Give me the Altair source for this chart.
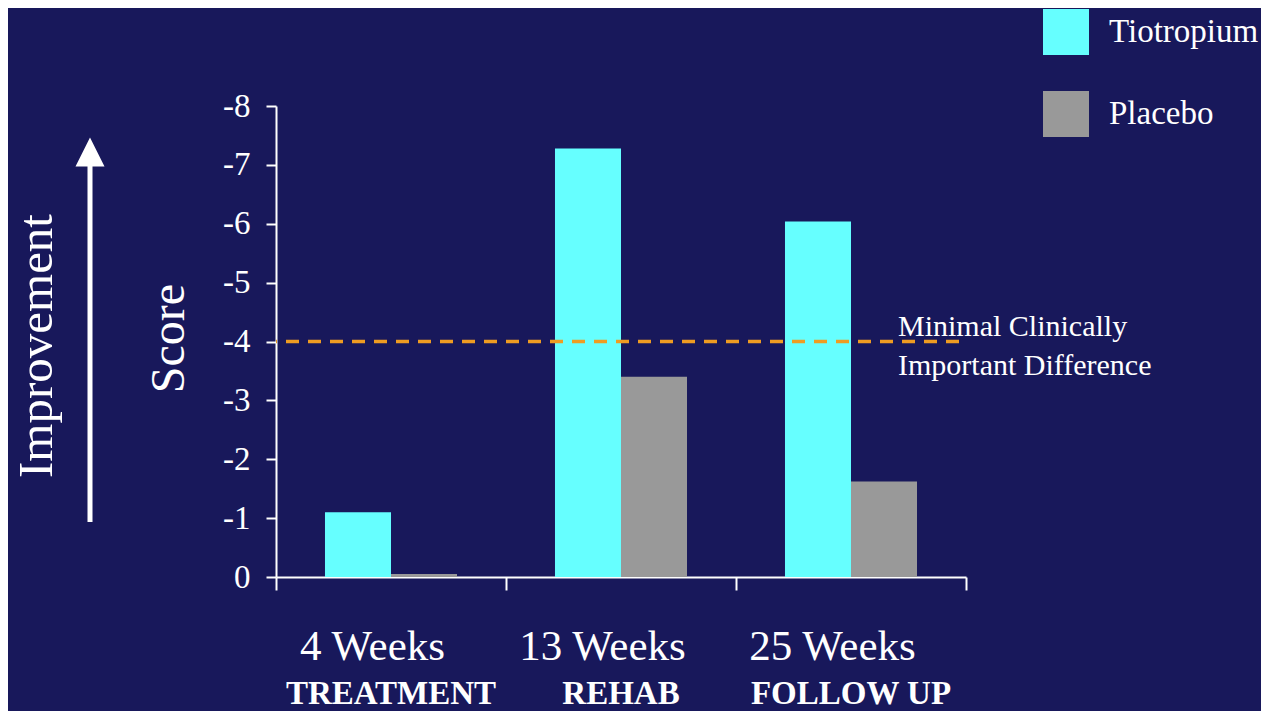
import altair as alt
import pandas as pd

weeks = ["4 Weeks", "13 Weeks", "25 Weeks"]
phases = ["TREATMENT", "REHAB", "FOLLOW UP"]
groups = ["Tiotropium", "Placebo"]
tiotropium = [-1.1, -7.28, -6.04]
placebo = [-0.05, -3.4, -1.62]
mcid = -4.0
y_ticks = [-8, -7, -6, -5, -4, -3, -2, -1, 0]

rows = []
for w, t, p in zip(weeks, tiotropium, placebo):
    rows.append({"Week": w, "Group": "Tiotropium", "Score": t})
    rows.append({"Week": w, "Group": "Placebo", "Score": p})
df = pd.DataFrame(rows)
phase_df = pd.DataFrame({"Week": weeks, "Phase": phases})

BG = "#18185B"
FONT = "Liberation Serif"
W, H = 690, 471

x_main = alt.X(
    "Week:N",
    sort=weeks,
    scale=alt.Scale(paddingInner=0, paddingOuter=0),
    axis=alt.Axis(
        orient="bottom", title=None, labelAngle=0, tickBand="extent",
        tickSize=13, tickWidth=2, tickColor="white", domainColor="white",
        domainWidth=2, labelColor="white", labelFont=FONT, labelFontSize=43,
        labelPadding=35, labelBaseline="top", labelLimit=0, labelOffset=-19,
    ),
)

y_main = alt.Y(
    "Score:Q",
    scale=alt.Scale(domain=[0, -8], nice=False),
    axis=alt.Axis(
        values=y_ticks, title="Score", grid=False,
        labelExpr="datum.value == 0 ? '0' : '-' + abs(datum.value)",
        tickSize=10, tickWidth=2, tickColor="white", domainColor="white",
        domainWidth=2, labelColor="white", labelFont=FONT, labelFontSize=33,
        labelPadding=16, titleColor="white", titleFont=FONT, titleFontSize=48,
        titleFontWeight="normal", titleAngle=270, titleBaseline="alphabetic",
        titleAlign="center", titleX=-93, titleY=232,
    ),
)

bars = alt.Chart(df).mark_bar().encode(
    x=x_main,
    xOffset=alt.XOffset("Group:N", sort=groups,
                        scale=alt.Scale(paddingInner=0, paddingOuter=0.742)),
    y=y_main,
    color=alt.Color(
        "Group:N", sort=groups,
        scale=alt.Scale(domain=groups, range=["#66FFFF", "#999999"]),
        legend=alt.Legend(
            title=None, orient="none", legendX=767, legendY=-97,
            symbolType="square", symbolSize=2116, symbolStrokeWidth=0,
            symbolOpacity=1, labelFont=FONT, labelFontSize=33,
            labelColor="white", labelOffset=20, rowPadding=36, padding=0,
        ),
    ),
)

phase_text = alt.Chart(phase_df).mark_text(
    align="center", baseline="alphabetic", font=FONT, fontSize=33,
    fontWeight="bold", color="white",
).encode(
    x=alt.X("Week:N", sort=weeks),
    y=alt.value(598),
    text="Phase:N",
)

mcid_df = pd.DataFrame({"mcid": [mcid]})
rule = alt.Chart(mcid_df).mark_rule(
    color="#EE9C22", strokeWidth=3.5, strokeDash=[13, 9], strokeDashOffset=15
).encode(y=alt.Y("mcid:Q"))

note = alt.Chart(mcid_df).mark_text(
    align="left", baseline="middle", font=FONT, fontSize=30, color="white",
    lineHeight=39, dy=-15,
).encode(
    y=alt.Y("mcid:Q"),
    x=alt.value(622),
    text=alt.value(["Minimal Clinically", "Important Difference"]),
)

arrow_df = pd.DataFrame({"label": ["Improvement"]})
shaft = alt.Chart(arrow_df).mark_rule(color="white", strokeWidth=5).encode(
    x=alt.value(-186), y=alt.value(416), y2=alt.value(55)
)
head = alt.Chart(arrow_df).mark_point(
    shape="M0,-1L1,1L-1,1Z", filled=True, color="white", opacity=1, size=841
).encode(x=alt.value(-186), y=alt.value(46))
improvement = alt.Chart(arrow_df).mark_text(
    angle=270, align="center", baseline="alphabetic", font=FONT, fontSize=49,
    color="white",
).encode(x=alt.value(-224), y=alt.value(240), text="label:N")

chart = (
    alt.layer(bars, phase_text, rule, note, shaft, head, improvement)
    .properties(
        width=W, height=H, background=BG,
        autosize=alt.AutoSizeParams(type="none"),
        padding={"left": 268, "top": 98, "right": 295, "bottom": 134},
    )
    .configure_view(stroke=None)
)

chart.save("out.html", embed_options={"renderer": "svg", "actions": False})
